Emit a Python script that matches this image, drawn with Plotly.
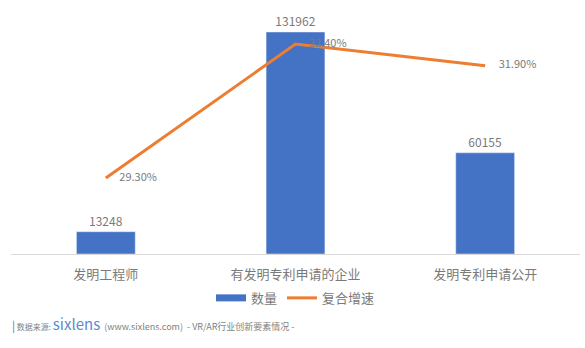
import plotly.graph_objects as go

categories = ["发明工程师", "有发明专利申请的企业", "发明专利申请公开"]
counts = [13248, 131962, 60155]
growth = [29.30, 32.40, 31.90]
growth_labels = ["29.30%", "32.40%", "31.90%"]

fig = go.Figure()
fig.add_trace(go.Bar(
    x=categories, y=counts, name="数量",
    marker=dict(color="#4472C4"),
    text=[str(v) for v in counts], textposition="outside",
    textfont=dict(color="#7a7a7a", size=12, family="Noto Sans CJK SC"),
    cliponaxis=False, showlegend=False,
))
fig.add_trace(go.Scatter(
    x=categories, y=growth, name="复合增速", yaxis="y2",
    mode="lines+markers+text", line=dict(color="#ED7D31", width=3),
    marker=dict(size=20, color="rgba(0,0,0,0)"),
    text=growth_labels, textposition="middle right",
    textfont=dict(color="#7a7a7a", size=11, family="Noto Sans CJK SC"),
    cliponaxis=False, showlegend=False,
))
# legend entries (line-style swatches as in the reference)
fig.add_trace(go.Scatter(x=[None], y=[None], mode="lines", name="数量",
                         line=dict(color="#4472C4", width=7)))
fig.add_trace(go.Scatter(x=[None], y=[None], mode="lines", name="复合增速",
                         line=dict(color="#ED7D31", width=3)))

fig.update_layout(
    width=585, height=348,
    margin=dict(l=11, r=5, t=10, b=94),
    paper_bgcolor="white", plot_bgcolor="white",
    bargap=0.69,
    font=dict(family="Noto Sans CJK SC", color="#7a7a7a"),
    xaxis=dict(showline=True, linecolor="#d9d9d9", linewidth=1, ticks="",
               ticklabelstandoff=8,
               tickfont=dict(size=13, color="#7a7a7a")),
    yaxis=dict(range=[0, 145040], visible=False, showgrid=False),
    yaxis2=dict(range=[27.54, 33.19], overlaying="y", side="right",
                visible=False, showgrid=False),
    showlegend=True,
    legend=dict(orientation="h", x=0.5, xanchor="center", y=-0.18, yanchor="middle",
                font=dict(size=13, color="#7a7a7a"), itemwidth=30),
    annotations=[dict(
        xref="paper", yref="paper", x=-0.002, y=-0.286, xanchor="left", yanchor="middle",
        showarrow=False,
        text=("<span style='color:#4472C4;font-size:11px'>|</span>"
              "<span style='font-size:8px;color:#7f7f7f'> 数据来源: </span>"
              "<span style='color:#5b8bd0;font-size:15px'>sixlens</span>"
              "<span style='font-size:9px;color:#7f7f7f'>  (www.sixlens.com)  - VR/AR行业创新要素情况 -</span>"),
    )],
)

fig.write_html("out.html")
